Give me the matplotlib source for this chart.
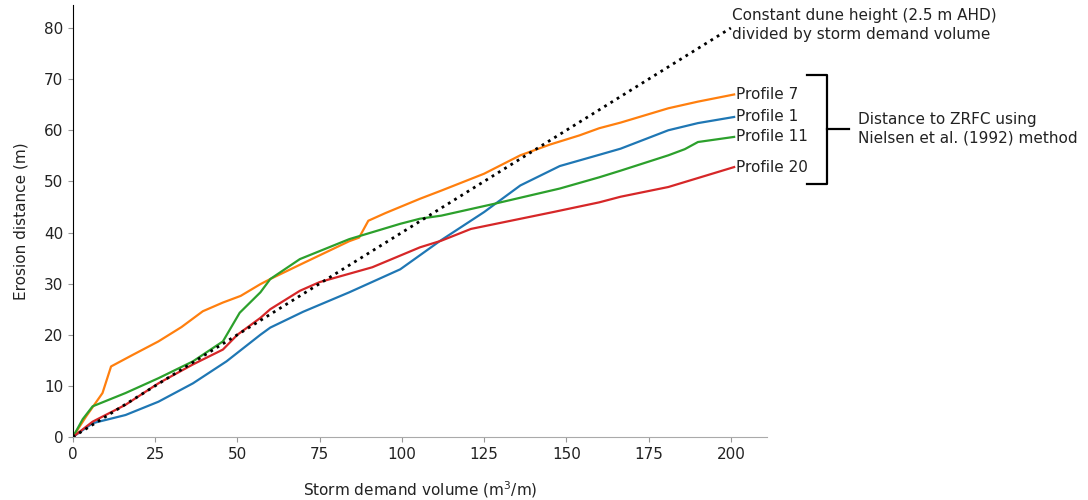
import numpy as np
import matplotlib
matplotlib.use('Agg')
import matplotlib.pyplot as plt

# storm demand volume (m3/m) vs erosion distance (m)
p7_x = [0, 4, 9, 11.6, 18, 26, 33, 39.5, 45.6, 51, 57, 60, 70, 84, 87, 89.8, 95, 105.5, 112, 125, 136, 145, 154, 160, 166.5, 181, 190, 201]
p7_y = [0, 4, 8.6, 13.8, 16, 18.7, 21.5, 24.6, 26.3, 27.6, 29.9, 30.9, 34, 38.3, 39, 42.3, 43.8, 46.6, 48.2, 51.5, 55.1, 57.2, 59, 60.4, 61.5, 64.3, 65.6, 67]

p1_x = [0, 6, 16, 26, 36.5, 46.7, 57, 60, 70, 84, 99.5, 111.7, 125, 136, 148, 160, 166.5, 181, 190, 201]
p1_y = [0, 2.7, 4.3, 6.9, 10.5, 14.8, 20, 21.4, 24.5, 28.3, 32.8, 38.4, 44, 49.2, 53, 55.2, 56.4, 60, 61.4, 62.6]

p11_x = [0, 3, 6, 11, 16, 26, 36.5, 45.6, 50.7, 57, 60, 69, 84, 99.5, 105.5, 112, 128, 148, 160, 166.5, 181, 186, 190, 201]
p11_y = [0, 3.5, 6, 7.3, 8.6, 11.5, 14.8, 18.7, 24.3, 28.3, 30.9, 34.8, 38.7, 41.7, 42.7, 43.3, 45.6, 48.6, 50.8, 52.1, 55.1, 56.3, 57.7, 58.7]

p20_x = [0, 6, 16, 26, 36.5, 45.6, 50, 57, 60, 69, 75, 91, 105.5, 112, 121, 146, 160, 166.5, 181, 201]
p20_y = [0, 3, 6.3, 10.5, 14.2, 17.1, 20, 23.3, 25, 28.6, 30.3, 33.2, 37.1, 38.4, 40.7, 44, 45.9, 47, 48.9, 52.8]

const_x = [0, 200]
const_y = [0, 80]

profiles = [('Profile 7', p7_x, p7_y, '#ff7f0e'),
            ('Profile 1', p1_x, p1_y, '#1f77b4'),
            ('Profile 11', p11_x, p11_y, '#2ca02c'),
            ('Profile 20', p20_x, p20_y, '#d62728')]

plt.rcParams['font.family'] = ['DejaVu Sans']
plt.rcParams['font.size'] = 11

fig = plt.figure(figsize=(10.88, 5), dpi=100)
ax = fig.add_axes([0.067, 0.126, 0.638, 0.864])

for name, xs, ys, col in profiles:
    ax.plot(xs, ys, color=col, lw=1.6)
    ax.text(xs[-1] + 0.5, ys[-1], name, color='#222222', va='center', ha='left', fontsize=11)

ax.plot(const_x, const_y, color='black', ls=':', lw=2)
ax.text(200.5, 80.6, 'Constant dune height (2.5 m AHD)\ndivided by storm demand volume',
        va='center', ha='left', fontsize=11, color='#222222', linespacing=1.35)

# bracket for the Nielsen et al. profiles
bx, bl, br = 229.2, 223.2, 236
ytop, ybot, ymid = 70.8, 49.5, 60.3
ax.plot([bl, bx, bx, bl], [ytop, ytop, ybot, ybot], color='black', lw=1.6, clip_on=False)
ax.plot([bx, br], [ymid, ymid], color='black', lw=1.6, clip_on=False)
ax.text(238.7, ymid, 'Distance to ZRFC using\nNielsen et al. (1992) method',
        va='center', ha='left', fontsize=11, color='#222222', linespacing=1.35)

ax.set_xlim(0, 211)
ax.set_ylim(0, 84.5)
ax.set_xticks(np.arange(0, 201, 25))
ax.set_yticks(np.arange(0, 81, 10))
ax.spines['top'].set_visible(False)
ax.spines['right'].set_visible(False)
ax.spines['bottom'].set_color('#aaaaaa')
ax.tick_params(colors='#999999', labelcolor='#222222', labelsize=11)
ax.set_xlabel('Storm demand volume (m$^3$/m)', labelpad=13, color='#222222')
ax.set_ylabel('Erosion distance (m)', labelpad=11, color='#222222')

fig.savefig('out.png', dpi=100)
